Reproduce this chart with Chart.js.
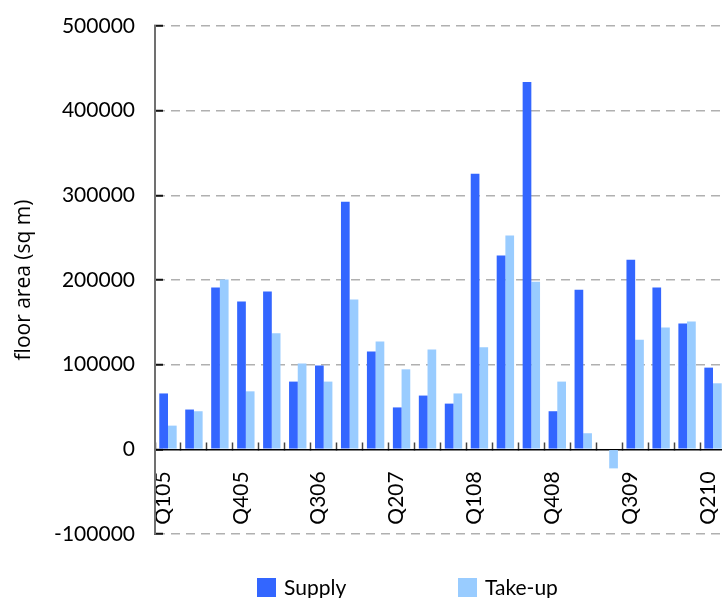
<!DOCTYPE html>
<html>
<head>
<meta charset="utf-8">
<title>Office floor area: supply and take-up</title>
<script src="https://cdn.jsdelivr.net/npm/chart.js@4.4.1/dist/chart.umd.min.js"></script>
<style>
  html, body { margin: 0; padding: 0; overflow: hidden; background: #fff; }
  #wrap { width: 730px; height: 598px; }
</style>
</head>
<body>
<div id="wrap"><canvas id="chart" width="730" height="598"></canvas></div>
<script>
// Quarterly categories, Q1 2005 to Q2 2010
const quarters = [
  'Q105', 'Q205', 'Q305', 'Q405',
  'Q106', 'Q206', 'Q306', 'Q406',
  'Q107', 'Q207', 'Q307', 'Q407',
  'Q108', 'Q208', 'Q308', 'Q408',
  'Q109', 'Q209', 'Q309', 'Q409',
  'Q110', 'Q210'
];

// Floor area in square metres
const supply = [
  66000, 47000, 191000, 174500,
  186500, 80000, 99000, 292500,
  115500, 49500, 63500, 54000,
  325500, 229000, 434000, 45000,
  188500, 0, 224000, 191000,
  148500, 96500
];

const takeUp = [
  28000, 45000, 200500, 68500,
  137000, 101500, 80000, 177000,
  127500, 94500, 118000, 66000,
  120500, 252500, 198000, 80000,
  19000, -22500, 129500, 144000,
  151000, 78000
];

// Value axis range and tick spacing
const yMin = -100000;
const yMax = 500000;
const yStep = 100000;

// Show every third quarter on the category axis
const labelEvery = 3;

const seriesNames = ['Supply', 'Take-up'];
const seriesColors = ['#3366FF', '#99CCFF'];

// Legend drawn under the plot from the dataset labels and colours
const spacedLegend = {
  id: 'spacedLegend',
  afterDraw(chart, args, opts) {
    const ctx = chart.ctx;
    ctx.save();
    ctx.font = opts.fontSize + 'px ' + opts.fontFamily;
    ctx.textBaseline = 'middle';
    ctx.textAlign = 'left';
    chart.data.datasets.forEach((ds, i) => {
      const x = opts.x[i];
      ctx.fillStyle = ds.backgroundColor;
      ctx.fillRect(x, opts.y, opts.box, opts.box);
      ctx.fillStyle = opts.color;
      ctx.fillText(ds.label, x + opts.box + opts.gap, opts.y + opts.box / 2 + 1);
    });
    ctx.restore();
  }
};

const tickFont = { family: 'Lato, "Open Sans", sans-serif', size: 21 };

new Chart(document.getElementById('chart'), {
  type: 'bar',
  data: {
    labels: quarters,
    datasets: [
      {
        label: seriesNames[0],
        data: supply,
        backgroundColor: seriesColors[0],
        borderWidth: 0,
        categoryPercentage: 0.67,
        barPercentage: 1.0
      },
      {
        label: seriesNames[1],
        data: takeUp,
        backgroundColor: seriesColors[1],
        borderWidth: 0,
        categoryPercentage: 0.67,
        barPercentage: 1.0
      }
    ]
  },
  options: {
    responsive: false,
    animation: false,
    devicePixelRatio: 1,
    layout: { padding: { left: 0, top: 26, right: 4, bottom: 64 } },
    plugins: {
      legend: { display: false },
      tooltip: { enabled: false },
      spacedLegend: {
        x: [257, 458],
        y: 578,
        box: 19,
        gap: 8,
        fontSize: 21,
        fontFamily: 'Lato, "Open Sans", sans-serif',
        color: '#000'
      }
    },
    scales: {
      x: {
        position: { y: 0 },
        offset: true,
        grid: {
          offset: true,
          drawOnChartArea: false,
          drawTicks: true,
          tickLength: -8,
          tickColor: '#444',
          tickWidth: 1.5
        },
        border: { display: true, color: '#000', width: 1.5 },
        ticks: {
          autoSkip: false,
          minRotation: 90,
          maxRotation: 90,
          padding: 30,
          labelOffset: -5,
          color: '#000',
          font: tickFont,
          callback(value, index) {
            return index % labelEvery === 0 ? this.getLabelForValue(value) : '';
          }
        },
        afterFit(scale) {
          // labels hang below the zero line, so no side padding is needed
          scale.paddingLeft = 0;
          scale.paddingRight = 0;
        }
      },
      y: {
        min: yMin,
        max: yMax,
        ticks: {
          stepSize: yStep,
          padding: 28,
          color: '#000',
          font: tickFont,
          callback: (v) => String(v)
        },
        grid: {
          color: (c) => (c.tick && c.tick.value === 0 ? 'rgba(0,0,0,0)' : '#b0b0b0'),
          lineWidth: 1.5,
          drawTicks: true,
          tickLength: -8,
          tickColor: '#111',
          tickWidth: 2
        },
        border: { display: true, color: '#707070', width: 2, dash: [9, 6] },
        title: {
          display: true,
          text: 'floor area (sq m)',
          color: '#000',
          font: { family: '"Open Sans", sans-serif', size: 21 },
          padding: { top: 11, bottom: 0 }
        },
        afterFit(scale) {
          scale.width = 155;
          scale.paddingTop = 0;
          scale.paddingBottom = 0;
        }
      }
    }
  },
  plugins: [spacedLegend]
});
</script>
</body>
</html>
